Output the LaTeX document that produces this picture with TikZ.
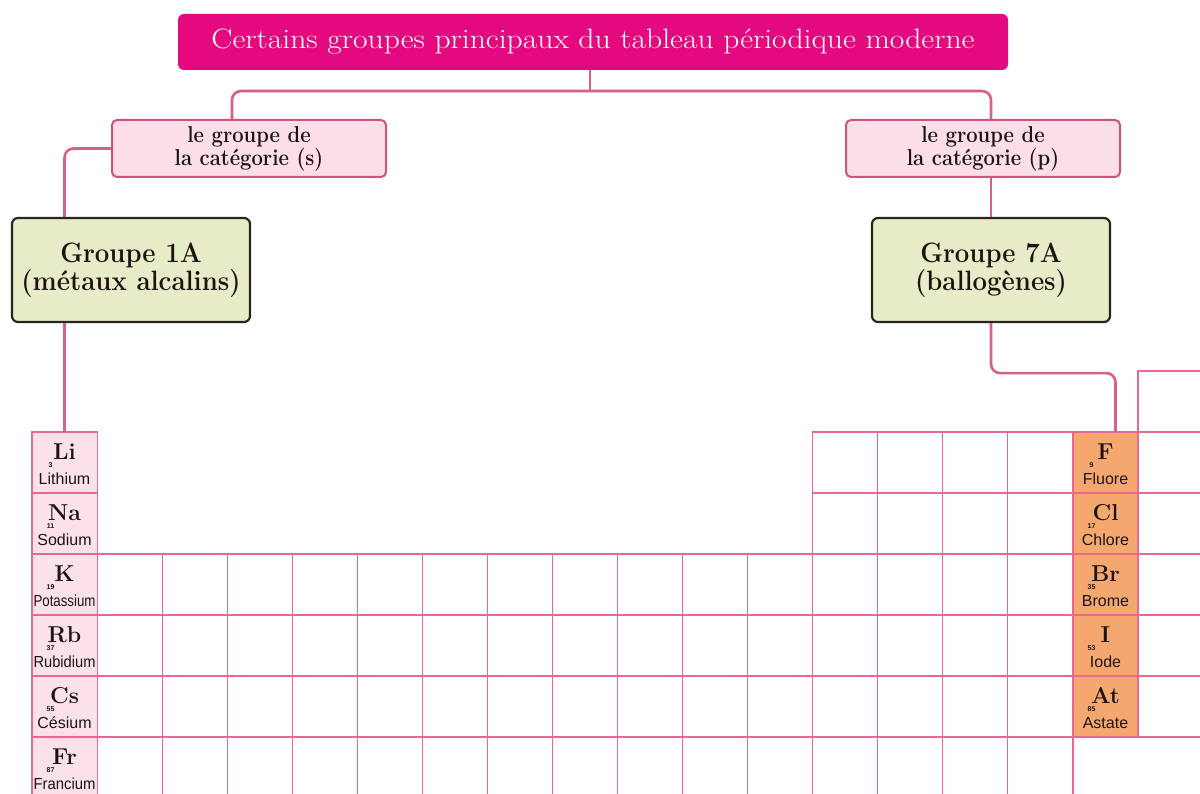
\documentclass[tikz,border=0pt]{standalone}
\usepackage{fontspec}
\usepackage{graphicx}
\newfontfamily\namefont{Liberation Sans}
\definecolor{titlec}{RGB}{229,9,127}
\definecolor{connc}{RGB}{214,96,134}
\definecolor{catfill}{RGB}{251,222,232}
\definecolor{catdraw}{RGB}{206,84,122}
\definecolor{grpfill}{RGB}{232,235,200}
\definecolor{grpdraw}{RGB}{40,36,30}
\definecolor{gridc}{RGB}{234,104,144}
\definecolor{alkfill}{RGB}{251,226,234}
\definecolor{halfill}{RGB}{244,168,112}
\definecolor{txtc}{RGB}{30,20,15}
\newsavebox\elbox
\newcommand\fitw[2]{\sbox\elbox{#2}\ifdim\wd\elbox>#1\resizebox{#1}{\height}{#2}\else\usebox\elbox\fi}
\newcommand\sqz[2]{\scalebox{#1}[1]{#2}}
\tikzset{
  titlebox/.style={fill=titlec, rounded corners=6pt, text=white, minimum width=830, minimum height=56,
    inner sep=0, font=\fontsize{28}{30}\selectfont},
  catbox/.style={fill=catfill, draw=catdraw, line width=2pt, rounded corners=5pt, minimum width=274,
    minimum height=57, inner sep=0, align=center, text=txtc, font=\bfseries\fontsize{23}{23}\selectfont},
  grpbox/.style={fill=grpfill, draw=grpdraw, line width=2.2pt, rounded corners=6pt, minimum width=238,
    minimum height=104, inner sep=0, align=center, text=txtc, font=\bfseries\fontsize{28}{23}\selectfont},
  conn/.style={draw=connc, line width=2.6pt, rounded corners=9pt},
  gridline/.style={draw=gridc, line width=1.1pt},
  cellbox/.style={draw=gridc, line width=1.1pt, minimum width=65.06, minimum height=61, inner sep=0, outer sep=0},
  symtxt/.style={inner sep=0, anchor=base, text=txtc, font=\bfseries\fontsize{23}{23}\selectfont},
  numtxt/.style={inner sep=0, anchor=north, text=txtc, font=\namefont\bfseries\fontsize{7}{7}\selectfont},
  nametxt/.style={inner sep=0, text=txtc, font=\namefont\fontsize{16}{16}\selectfont},
}
% name, column, row, symbol, number, label, fill
\newcommand\elcell[7]{%
  \node[cellbox, fill=#7] (#1) at ({32+65.06*#2+32.53},{432+61*#3+30.5}) {};
  \node[symtxt] (#1-s) at ([yshift=-27.5pt]#1.north) {#4};
  \node[numtxt] (#1-n) at ([xshift=-14pt,yshift=-30.5pt]#1.north) {#5};
  \node[nametxt] (#1-t) at ([yshift=-47pt]#1.north) {\fitw{62pt}{#6}};
}
\begin{document}
\begin{tikzpicture}[x=1pt,y=-1pt]
\useasboundingbox (0,0) rectangle (1200,794);
\clip (0,0) rectangle (1200,794);
\fill[white] (0,0) rectangle (1200,794);
% plain grid
\draw[gridline] ({32+65.06*17},{432-61}) rectangle +(65.06,61);
\foreach \k in {12,...,17} \foreach \r in {0,1}
  \draw[gridline] ({32+65.06*\k},{432+61*\r}) rectangle +(65.06,61);
\foreach \k in {0,...,17} \foreach \r in {2,3,4}
  \draw[gridline] ({32+65.06*\k},{432+61*\r}) rectangle +(65.06,61);
\foreach \k in {0,...,15}
  \draw[gridline] ({32+65.06*\k},{432+61*5}) rectangle +(65.06,61);
% element cells
\elcell{li}{0}{0}{Li}{3}{Lithium}{alkfill}
\elcell{na}{0}{1}{Na}{11}{Sodium}{alkfill}
\elcell{k}{0}{2}{K}{19}{Potassium}{alkfill}
\elcell{rb}{0}{3}{Rb}{37}{Rubidium}{alkfill}
\elcell{cs}{0}{4}{Cs}{55}{Césium}{alkfill}
\elcell{fr}{0}{5}{Fr}{87}{Francium}{alkfill}
\elcell{f}{16}{0}{F}{9}{Fluore}{halfill}
\elcell{cl}{16}{1}{Cl}{17}{Chlore}{halfill}
\elcell{br}{16}{2}{Br}{35}{Brome}{halfill}
\elcell{i}{16}{3}{I}{53}{Iode}{halfill}
\elcell{at}{16}{4}{At}{85}{Astate}{halfill}
% boxes
\node[titlebox] (title) at (593,42) {\sqz{1.13}{Certains groupes principaux du tableau périodique moderne}};
\node[catbox] (sbox) at (249,148.5) {\sqz{0.88}{le groupe de}\\\sqz{0.88}{la catégorie (s)}};
\node[catbox] (pbox) at (983,148.5) {\sqz{0.88}{le groupe de}\\\sqz{0.88}{la catégorie (p)}};
\node[grpbox] (g1) at (131,270) {\sqz{0.92}{Groupe 1A}\\\sqz{0.92}{(métaux alcalins)}};
\node[grpbox] (g7) at (991,270) {\sqz{0.92}{Groupe 7A}\\\sqz{0.92}{(ballogènes)}};
% connectors
\coordinate (j) at (590,91);
\draw[conn] (title.south -| j) -- (j);
\draw[conn] ([xshift=-17pt]sbox.north) |- (j) -| (g7.north |- pbox.north);
\draw[conn] (sbox.west) -| (li.north |- g1.north);
\draw[conn] (li.north |- g1.south) -- (li.north);
\draw[conn] (g7.north |- pbox.south) -- (g7.north);
\draw[conn] (g7.south) -- ++(0,50) -| ([xshift=10pt]f.north);
\end{tikzpicture}
\end{document}
